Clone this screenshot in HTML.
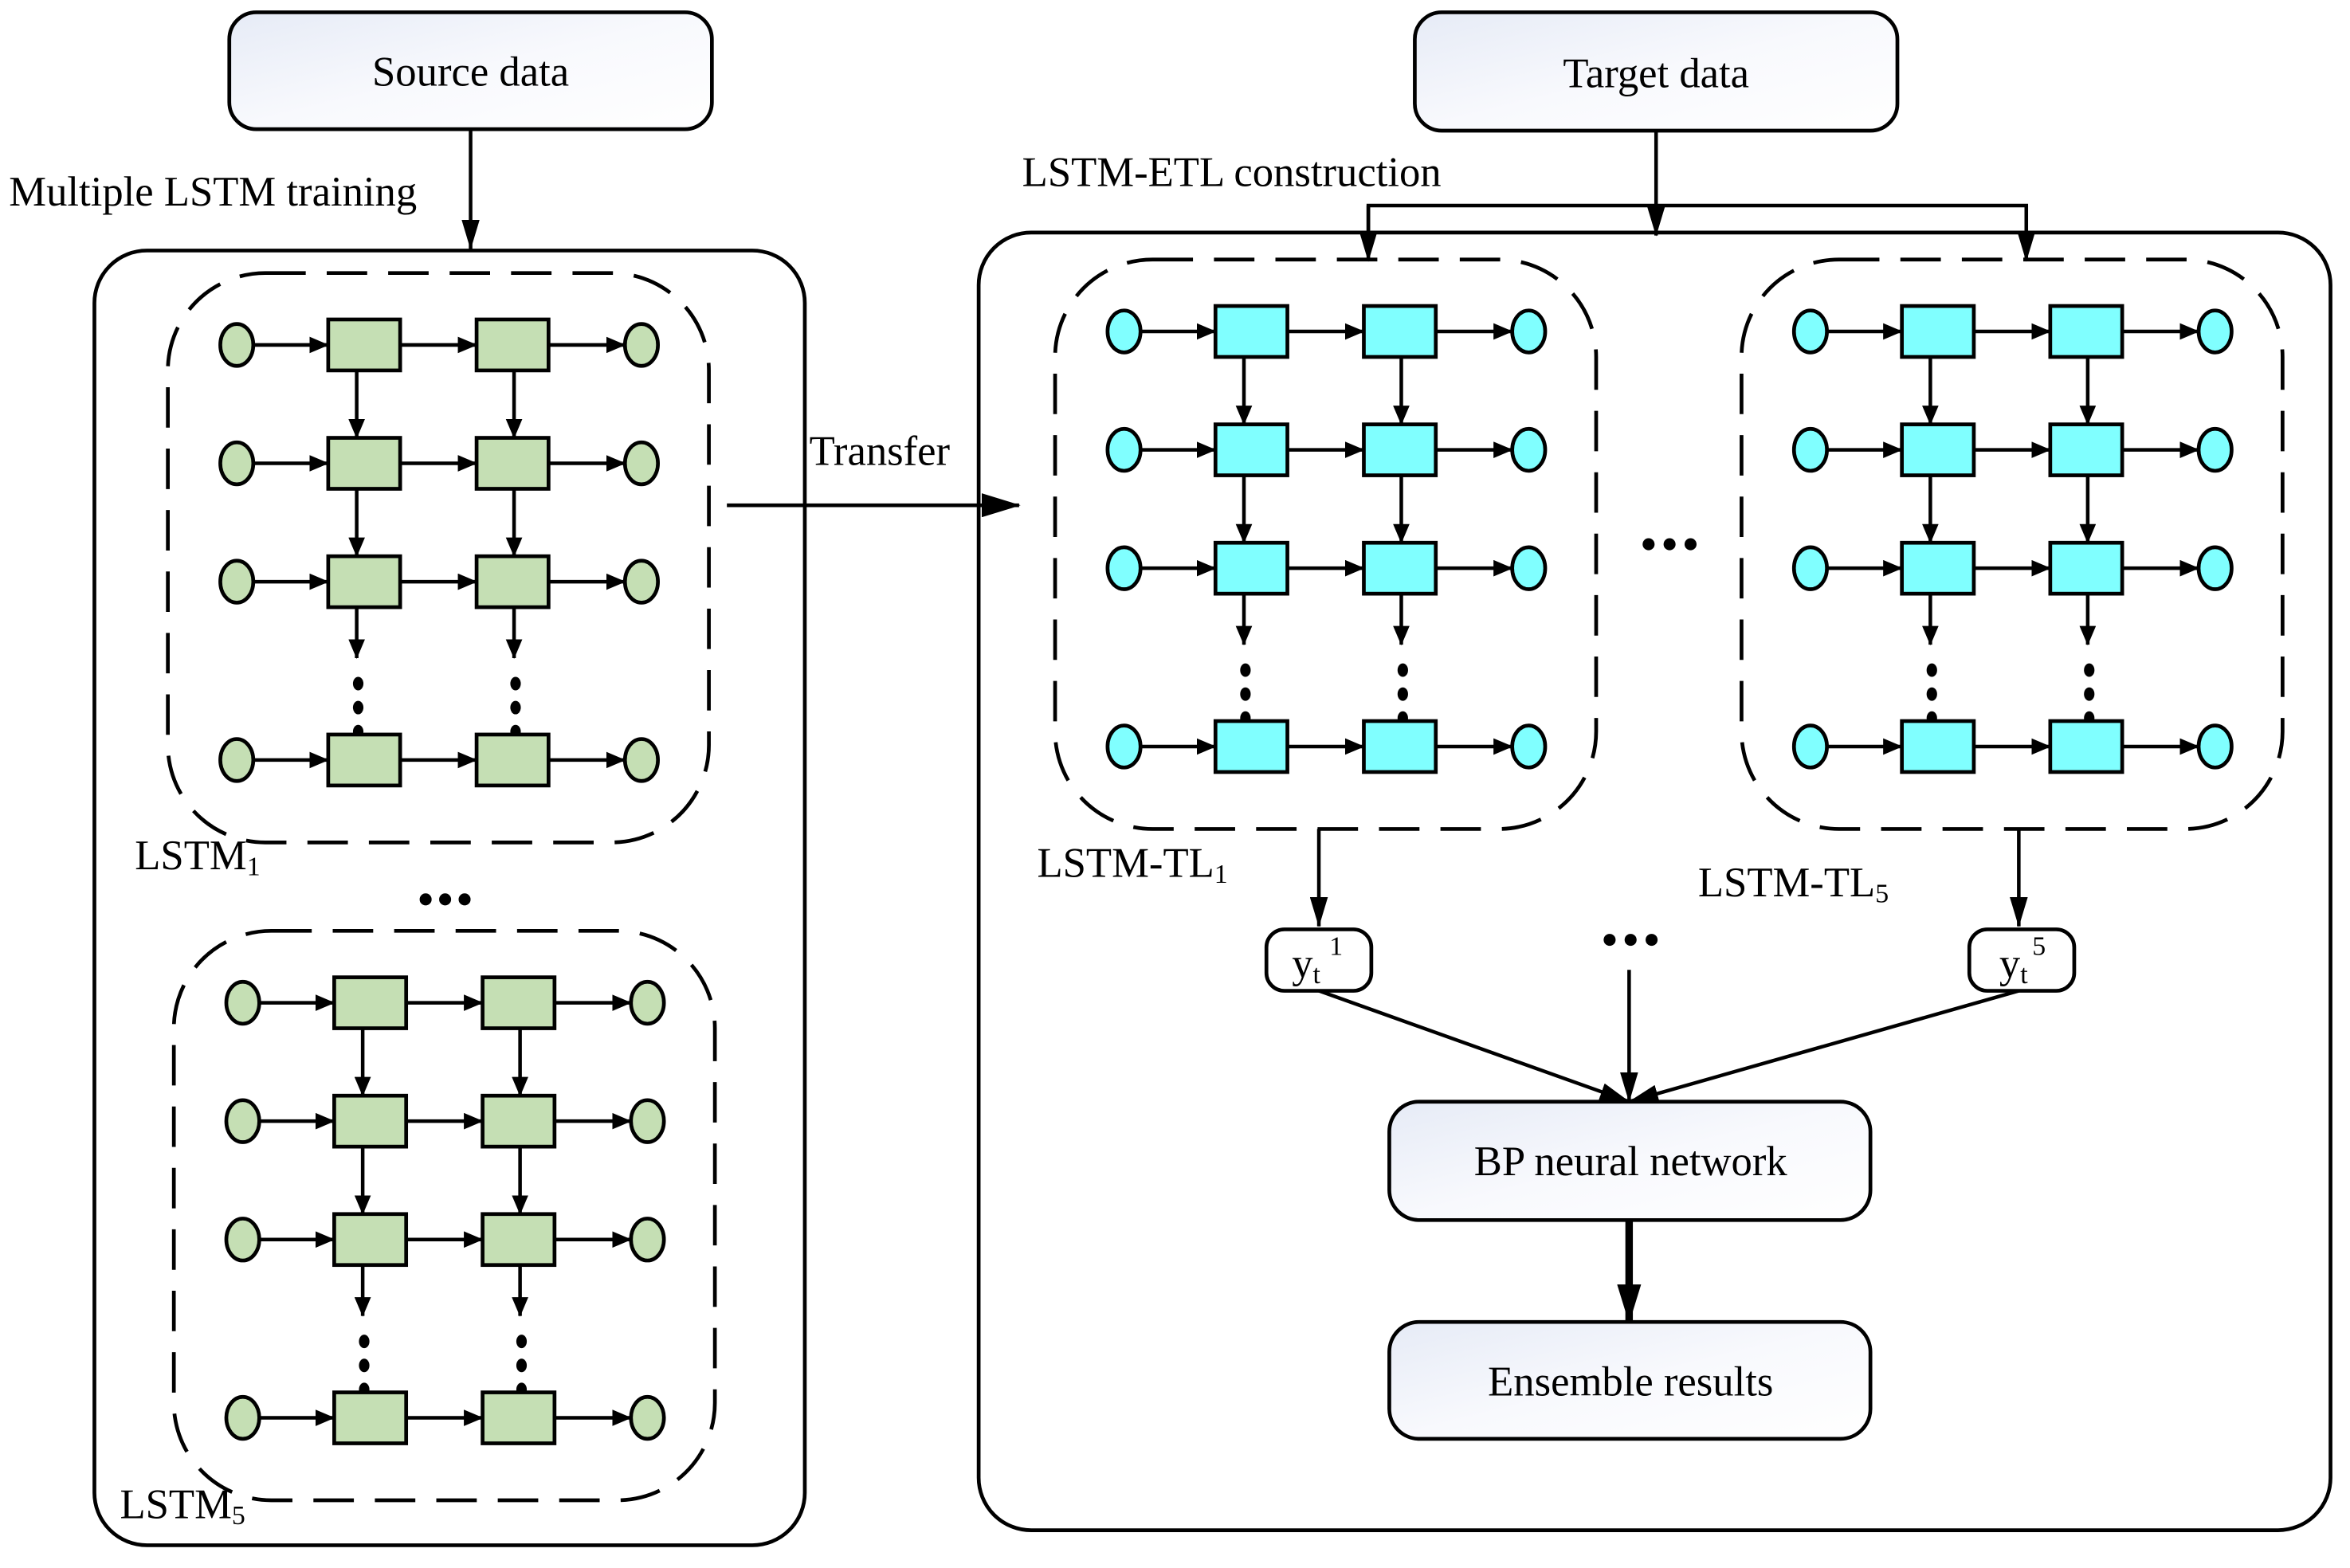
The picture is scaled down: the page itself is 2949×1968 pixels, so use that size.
<!DOCTYPE html>
<html><head><meta charset="utf-8"><style>html,body{margin:0;padding:0;background:#fff}svg{display:block}</style></head>
<body>
<svg width="2949" height="1968" viewBox="0 0 1568 1046" xmlns="http://www.w3.org/2000/svg" font-family="'Liberation Serif', serif" font-size="28">
<defs>
<linearGradient id="bg" x1="0" y1="0" x2="1" y2="1"><stop offset="0" stop-color="#e6ebf6"/><stop offset="0.5" stop-color="#f8f9fd"/><stop offset="1" stop-color="#ffffff"/></linearGradient>
<marker id="ah" markerWidth="13" markerHeight="11" refX="12.5" refY="5.5" orient="auto" markerUnits="userSpaceOnUse"><path d="M0,0 L13,5.5 L0,11 z" fill="#000"/></marker>
<marker id="ah2" markerWidth="20" markerHeight="12" refX="19.5" refY="6" orient="auto" markerUnits="userSpaceOnUse"><path d="M0,0 L20,6 L0,12 z" fill="#000"/></marker>
<marker id="ah3" markerWidth="26" markerHeight="16" refX="25" refY="8" orient="auto" markerUnits="userSpaceOnUse"><path d="M0,0 L26,8 L0,16 z" fill="#000"/></marker>
<g id="grid" stroke="#000" stroke-width="2.5">
  <rect x="-46" y="-48" width="361" height="380" rx="65" fill="none" stroke-dasharray="27 14"/>
  <g fill="none" marker-end="url(#ah)" stroke-width="2.4">
    <line x1="11" y1="0" x2="61" y2="0"/><line x1="109" y1="0" x2="160" y2="0"/><line x1="208" y1="0" x2="259" y2="0"/>
    <line x1="11" y1="79" x2="61" y2="79"/><line x1="109" y1="79" x2="160" y2="79"/><line x1="208" y1="79" x2="259" y2="79"/>
    <line x1="11" y1="158" x2="61" y2="158"/><line x1="109" y1="158" x2="160" y2="158"/><line x1="208" y1="158" x2="259" y2="158"/>
    <line x1="11" y1="277" x2="61" y2="277"/><line x1="109" y1="277" x2="160" y2="277"/><line x1="208" y1="277" x2="259" y2="277"/>
    <line x1="80" y1="17" x2="80" y2="62"/><line x1="185" y1="17" x2="185" y2="62"/>
    <line x1="80" y1="96" x2="80" y2="141"/><line x1="185" y1="96" x2="185" y2="141"/>
    <line x1="80" y1="175" x2="80" y2="209"/><line x1="185" y1="175" x2="185" y2="209"/>
  </g>
  <g fill="#000" stroke="none">
    <ellipse cx="81" cy="226" rx="3.5" ry="4.5"/><ellipse cx="81" cy="242" rx="3.5" ry="4.5"/><ellipse cx="81" cy="258" rx="3.5" ry="4.5"/>
    <ellipse cx="186" cy="226" rx="3.5" ry="4.5"/><ellipse cx="186" cy="242" rx="3.5" ry="4.5"/><ellipse cx="186" cy="258" rx="3.5" ry="4.5"/>
  </g>
  <g>
    <ellipse cx="0" cy="0" rx="11" ry="14"/><ellipse cx="270" cy="0" rx="11" ry="14"/>
    <ellipse cx="0" cy="79" rx="11" ry="14"/><ellipse cx="270" cy="79" rx="11" ry="14"/>
    <ellipse cx="0" cy="158" rx="11" ry="14"/><ellipse cx="270" cy="158" rx="11" ry="14"/>
    <ellipse cx="0" cy="277" rx="11" ry="14"/><ellipse cx="270" cy="277" rx="11" ry="14"/>
    <rect x="61" y="-17" width="48" height="34"/><rect x="160" y="-17" width="48" height="34"/>
    <rect x="61" y="62" width="48" height="34"/><rect x="160" y="62" width="48" height="34"/>
    <rect x="61" y="141" width="48" height="34"/><rect x="160" y="141" width="48" height="34"/>
    <rect x="61" y="260" width="48" height="34"/><rect x="160" y="260" width="48" height="34"/>
  </g>
</g>
</defs>

<rect x="153" y="8" width="322" height="78" rx="18" fill="url(#bg)" stroke="#000" stroke-width="2.5"/>
<text x="314" y="57" text-anchor="middle">Source data</text>
<rect x="944" y="8" width="322" height="79" rx="18" fill="url(#bg)" stroke="#000" stroke-width="2.5"/>
<text x="1105" y="58" text-anchor="middle">Target data</text>

<text x="6" y="137">Multiple LSTM training</text>
<text x="682" y="124">LSTM-ETL construction</text>

<rect x="63" y="167" width="474" height="864" rx="35" fill="none" stroke="#000" stroke-width="2.5"/>
<rect x="653" y="155" width="902" height="866" rx="35" fill="none" stroke="#000" stroke-width="2.5"/>

<g stroke="#000" stroke-width="2.4" fill="none">
  <line x1="314" y1="86" x2="314" y2="166" marker-end="url(#ah2)"/>
  <line x1="1105" y1="87" x2="1105" y2="157" marker-end="url(#ah2)"/>
  <polyline points="913,160 913,137 1352,137 1352,160" fill="none"/>
  <line x1="913" y1="137" x2="913" y2="174" marker-end="url(#ah2)"/>
  <line x1="1352" y1="137" x2="1352" y2="174" marker-end="url(#ah2)"/>
  <line x1="485" y1="337" x2="680" y2="337" marker-end="url(#ah3)"/>
  <line x1="880" y1="553" x2="880" y2="618" marker-end="url(#ah2)"/>
  <line x1="1347" y1="553" x2="1347" y2="618" marker-end="url(#ah2)"/>
  <line x1="880" y1="661" x2="1087" y2="735" marker-end="url(#ah2)"/>
  <line x1="1087" y1="647" x2="1087" y2="735" marker-end="url(#ah2)"/>
  <line x1="1347" y1="661" x2="1087" y2="735" marker-end="url(#ah2)"/>
  <line x1="1087" y1="814" x2="1087" y2="882" stroke-width="5" marker-end="url(#ah3)"/>
</g>
<text x="540" y="310">Transfer</text>

<use href="#grid" x="158" y="230" fill="#c5dfb4"/>
<use href="#grid" x="162" y="669" fill="#c5dfb4"/>
<use href="#grid" x="750" y="221" fill="#80ffff"/>
<use href="#grid" x="1208" y="221" fill="#80ffff"/>

<text x="90" y="580">LSTM<tspan font-size="18" dy="4">1</tspan></text>
<text x="80" y="1013">LSTM<tspan font-size="18" dy="4">5</tspan></text>
<text x="692" y="585">LSTM-TL<tspan font-size="18" dy="4">1</tspan></text>
<text x="1133" y="598">LSTM-TL<tspan font-size="18" dy="4">5</tspan></text>

<g fill="#000">
  <circle cx="284" cy="600" r="4"/><circle cx="297" cy="600" r="4"/><circle cx="310" cy="600" r="4"/>
  <circle cx="1100" cy="363" r="4"/><circle cx="1114" cy="363" r="4"/><circle cx="1128" cy="363" r="4"/>
  <circle cx="1074" cy="627" r="4"/><circle cx="1088" cy="627" r="4"/><circle cx="1102" cy="627" r="4"/>
</g>

<rect x="845" y="620" width="70" height="41" rx="12" fill="#fff" stroke="#000" stroke-width="2.5"/>
<text x="862" y="652">y</text><text x="876" y="656" font-size="18">t</text><text x="887" y="637" font-size="18">1</text>
<rect x="1314" y="620" width="70" height="41" rx="12" fill="#fff" stroke="#000" stroke-width="2.5"/>
<text x="1334" y="652">y</text><text x="1348" y="656" font-size="18">t</text><text x="1356" y="637" font-size="18">5</text>

<rect x="927" y="735" width="321" height="79" rx="20" fill="url(#bg)" stroke="#000" stroke-width="2.5"/>
<text x="1088" y="784" text-anchor="middle">BP neural network</text>
<rect x="927" y="882" width="321" height="78" rx="20" fill="url(#bg)" stroke="#000" stroke-width="2.5"/>
<text x="1088" y="931" text-anchor="middle">Ensemble results</text>
</svg>
</body></html>
